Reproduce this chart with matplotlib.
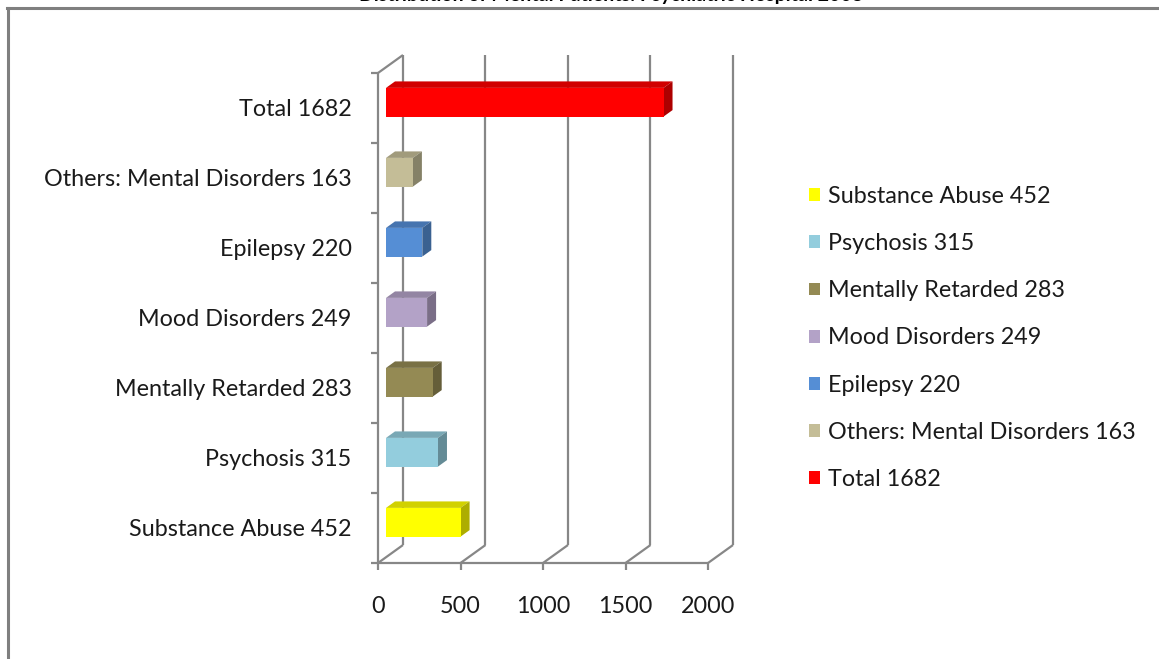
import matplotlib.pyplot as plt
from matplotlib.patches import Polygon, Patch
from matplotlib.lines import Line2D
from matplotlib.colors import to_rgb

categories = ['Substance Abuse 452', 'Psychosis 315', 'Mentally Retarded 283',
              'Mood Disorders 249', 'Epilepsy 220', 'Others: Mental Disorders 163',
              'Total 1682']
values = [452, 315, 283, 249, 220, 163, 1682]
colors = ['#FFFF00', '#93CDDD', '#948A54', '#B3A2C7', '#558ED5', '#C4BD97', '#FF0000']
xticks = [0, 500, 1000, 1500, 2000]
title = 'Distribution of Mental Patients: Psychiatric Hospital 2008'

plt.rcParams['font.family'] = ['Lato', 'DejaVu Sans']

W, H = 1159, 659
fig = plt.figure(figsize=(W / 100, H / 100), dpi=100)

# depth of the fake 3d box (data units) and where the bars sit inside it
DX = 151.5
DY = 0.257
bar_w = 0.41
f1, f2 = 0.32, 0.68
gray = '#878787'
fs = 16.8

# axes: front 0..2000 -> px 378..708, back wall top at px 55
x0, x1 = 378, 733
y0, y1 = 563, 55
ax = fig.add_axes([x0 / W, 1 - y0 / H, (x1 - x0) / W, (y0 - y1) / H])
n = len(categories)
top = n - 0.5
ax.set_xlim(0, xticks[-1] + DX)
ax.set_ylim(-0.5, top + DY)
for s in ax.spines.values():
    s.set_visible(False)

# floor, side wall and back wall lines
kw = dict(color=gray, lw=1.6, clip_on=False, solid_capstyle='butt', zorder=1)
ax.plot([0, xticks[-1]], [-0.5, -0.5], **kw)
ax.plot([0, 0], [-0.5, top], **kw)
ax.plot([0, DX], [top, top + DY], **kw)
for t in xticks:
    ax.plot([t, t + DX], [-0.5, -0.5 + DY], **kw)
    ax.plot([t + DX, t + DX], [-0.5 + DY, top + DY], **kw)


def shade(c, k):
    r, g, b = to_rgb(c)
    return (r * k, g * k, b * k)


# bars as front / top / side faces
for i, (v, c) in enumerate(zip(values, colors)):
    ox, oy = f1 * DX, f1 * DY
    bx, by = f2 * DX, f2 * DY
    yb, yt = i - bar_w / 2, i + bar_w / 2
    front = [(ox, yb + oy), (v + ox, yb + oy), (v + ox, yt + oy), (ox, yt + oy)]
    topf = [(ox, yt + oy), (v + ox, yt + oy), (v + bx, yt + by), (bx, yt + by)]
    side = [(v + ox, yb + oy), (v + bx, yb + by), (v + bx, yt + by), (v + ox, yt + oy)]
    ax.add_patch(Polygon(topf, closed=True, fc=shade(c, 0.82), ec='none', zorder=3, clip_on=False))
    ax.add_patch(Polygon(side, closed=True, fc=shade(c, 0.68), ec='none', zorder=3, clip_on=False))
    ax.add_patch(Polygon(front, closed=True, fc=c, ec='none', zorder=4, clip_on=False))

# ticks
ax.set_xticks(xticks)
ax.set_xticklabels([str(t) for t in xticks])
ax.tick_params(axis='x', length=5, width=1.6, color=gray, pad=19, labelsize=fs,
               labelcolor='#1a1a1a')
ax.set_yticks([k - 0.5 for k in range(n + 1)])
ax.set_yticklabels([])
ax.set_yticks(range(n), minor=True)
ax.set_yticklabels(categories, minor=True)
ax.tick_params(axis='y', which='major', length=5, width=1.6, color=gray)
ax.tick_params(axis='y', which='minor', length=0, pad=19, labelsize=fs,
               labelcolor='#1a1a1a')

# legend
handles = [Patch(fc=c, ec='none') for c in colors]
fig.legend(handles, categories, loc='upper left',
           bbox_to_anchor=(809 / W, 1 - 186 / H), frameon=False, fontsize=fs,
           labelcolor='#1a1a1a', handlelength=0.47, handleheight=0.47,
           handletextpad=0.36, labelspacing=1.12, borderpad=0, borderaxespad=0)

# chart title (mostly cut off at top, as in the source) and outer frame
fig.text(611 / W, 1 - 1.5 / H, title, ha='center', va='baseline',
         fontsize=14, fontweight='bold')
fig.add_artist(Line2D([7 / W, 1], [1 - 7.5 / H, 1 - 7.5 / H], color='#7f7f7f', lw=2.2))
fig.add_artist(Line2D([8 / W, 8 / W], [0, 1 - 7.5 / H], color='#7f7f7f', lw=2.2))

fig.savefig('out.png', dpi=100)
